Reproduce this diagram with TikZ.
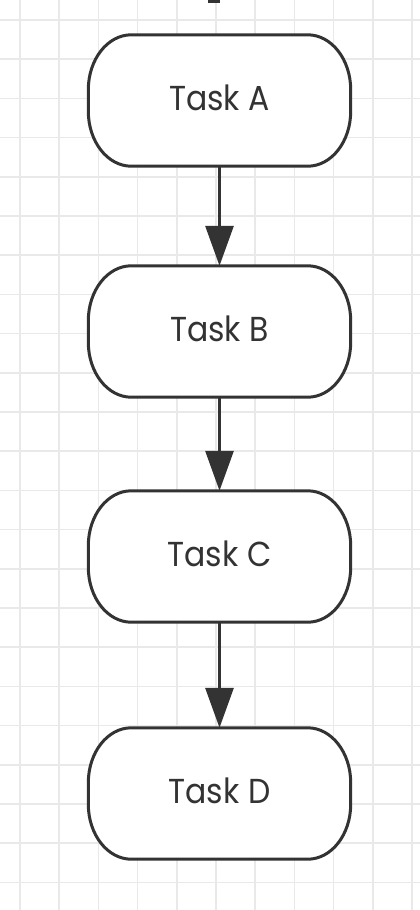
\documentclass[tikz,border=0pt]{standalone}
\usepackage{fontspec}
\setmainfont{Poppins}
\usetikzlibrary{arrows.meta}
\definecolor{ink}{HTML}{333333}
\definecolor{gridc}{HTML}{E9E9E9}
\newcommand{\tasklabel}[1]{\scalebox{1}[1.1]{#1}}
\tikzset{
  gridline/.style={draw=gridc, line width=1.6pt},
  taskbox/.style={draw=none, minimum width=262pt, minimum height=131pt, inner sep=0pt,
    text=ink, font=\fontsize{31.5}{36}\selectfont},
  tasktext/.style={taskbox, minimum width=0pt, minimum height=0pt},
  boxline/.style={draw=ink, line width=3pt, fill=white},
  conn/.style={draw=ink, line width=3pt, -{Triangle[length=40pt,width=28pt]}},
}
\begin{document}
\begin{tikzpicture}[x=1pt,y=-1pt]
\useasboundingbox (0,0) rectangle (420,910);
\fill[white] (0,0) rectangle (420,910);
\foreach \i in {0,...,10} \draw[gridline] ({20+39.2*\i},0) -- ({20+39.2*\i},910);
\foreach \j in {0,...,22} \draw[gridline] (0,{20+39.2*\j}) -- (420,{20+39.2*\j});
\fill[ink] (208,0) rectangle (220,2.5);
\node[taskbox] (A) at (219.5,100.5) {};
\node[taskbox] (B) at (219.5,331.5) {};
\node[taskbox] (C) at (219.5,556.5) {};
\node[taskbox] (D) at (219.5,793.5) {};
\foreach \n in {A,B,C,D} {
  \draw[boxline] ([xshift=43pt]\n.north west) -- ([xshift=-43pt]\n.north east)
    arc[start angle=90,end angle=0,x radius=43pt,y radius=55pt]
    -- ([yshift=55pt]\n.south east)
    arc[start angle=0,end angle=-90,x radius=43pt,y radius=55pt]
    -- ([xshift=43pt]\n.south west)
    arc[start angle=-90,end angle=-180,x radius=43pt,y radius=55pt]
    -- ([yshift=-55pt]\n.north west)
    arc[start angle=180,end angle=90,x radius=43pt,y radius=55pt] -- cycle;
}
\node[tasktext] (tA) at ([yshift=3pt]A.center) {\tasklabel{Task A}};
\node[tasktext] (tB) at ([yshift=3pt]B.center) {\tasklabel{Task B}};
\node[tasktext] (tC) at ([yshift=3pt]C.center) {\tasklabel{Task C}};
\node[tasktext] (tD) at ([yshift=3pt]D.center) {\tasklabel{Task D}};
\draw[conn] (A.south) -- (B.north);
\draw[conn] (B.south) -- (C.north);
\draw[conn] (C.south) -- (D.north);
\end{tikzpicture}
\end{document}
